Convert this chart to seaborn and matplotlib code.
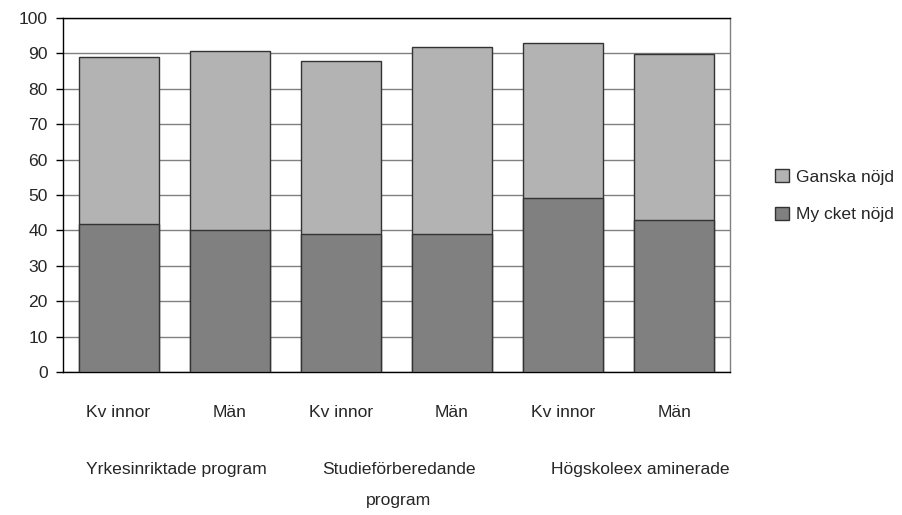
import matplotlib
matplotlib.use("Agg")
import matplotlib.pyplot as plt
from matplotlib.patches import Patch
from matplotlib.transforms import blended_transform_factory
import seaborn as sns
import pandas as pd

# data
bars = ["Kv innor", "Män", "Kv innor", "Män", "Kv innor", "Män"]
groups = ["Yrkesinriktade program", "Studieförberedande\nprogram", "Högskoleex aminerade"]
mycket = [41.7, 40.2, 39.0, 39.0, 49.2, 43.0]
ganska = [47.4, 50.6, 49.0, 52.9, 43.8, 46.7]

sns.set_style("white")
plt.rcParams["font.family"] = ["Liberation Sans", "DejaVu Sans"]

df = pd.DataFrame({"pos": range(6), "mycket": mycket, "ganska": ganska})
df["total"] = df["mycket"] + df["ganska"]

fig = plt.figure(figsize=(9.02, 5.15), dpi=100)
ax = fig.add_axes([0.0698, 0.2777, 0.7395, 0.6873])

c_ganska = "#b3b3b3"
c_mycket = "#808080"
fs = 12.6

sns.barplot(data=df, x="pos", y="total", color=c_ganska, width=0.72,
            edgecolor="#333333", linewidth=1, saturation=1, ax=ax, zorder=3)
sns.barplot(data=df, x="pos", y="mycket", color=c_mycket, width=0.72,
            edgecolor="#333333", linewidth=1, saturation=1, ax=ax, zorder=3)

ax.set_ylim(0, 100)
ax.set_xlim(-0.5, 5.5)
ax.set_yticks(range(0, 101, 10))
ax.yaxis.grid(True, color="#808080", linewidth=1, zorder=0)
ax.set_axisbelow(True)
ax.set_xlabel("")
ax.set_ylabel("")
ax.set_xticks(range(6))
ax.set_xticklabels(bars)
ax.tick_params(axis="y", which="major", left=True, length=5, width=1, color="black",
               labelsize=fs, pad=6)
ax.tick_params(axis="x", bottom=False, labelsize=fs, pad=20)

for side in ["left", "bottom", "top"]:
    ax.spines[side].set_color("black")
    ax.spines[side].set_linewidth(1)
ax.spines["right"].set_color("#808080")
ax.spines["right"].set_linewidth(1)

trans = blended_transform_factory(ax.transData, ax.transAxes)
group_x = [0.52, 2.52, 4.69]
for gx, g in zip(group_x, groups):
    ax.text(gx, -0.255, g, transform=trans, ha="center", va="top",
            fontsize=fs, linespacing=2.3)

handles = [Patch(facecolor=c_ganska, edgecolor="#333333", label="Ganska nöjd"),
           Patch(facecolor=c_mycket, edgecolor="#333333", label="My cket nöjd")]
fig.legend(handles=handles, loc="center left", bbox_to_anchor=(0.842, 0.62),
           frameon=False, fontsize=fs, handlelength=0.8, handleheight=0.8,
           handletextpad=0.4, labelspacing=1.25)

fig.savefig("out.png", dpi=100)
